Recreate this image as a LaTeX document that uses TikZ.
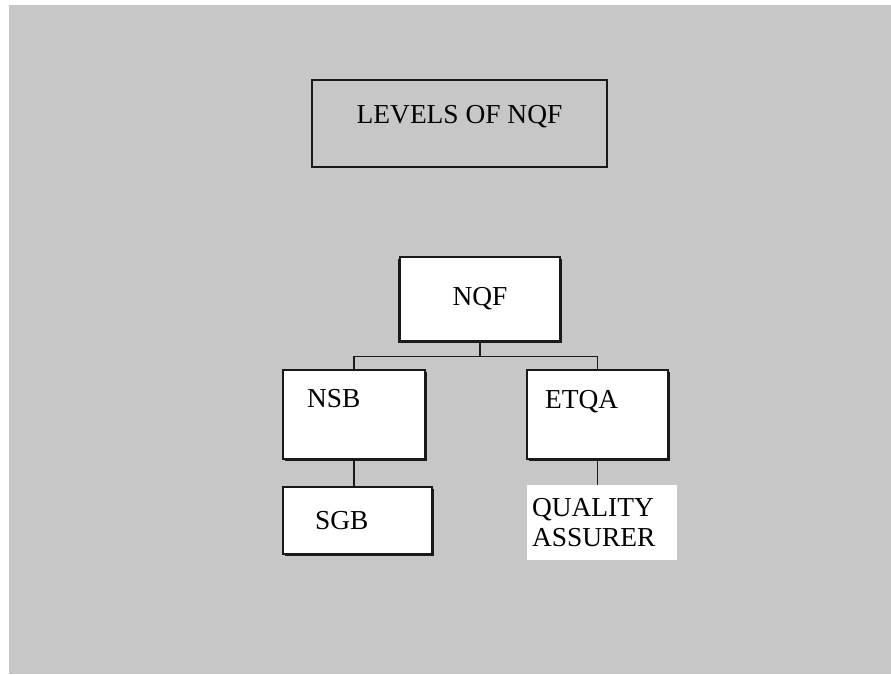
\documentclass[tikz,border=0pt]{standalone}
\usepackage{fontspec}
\setmainfont{Liberation Serif}
\usepackage{xcolor}
\definecolor{paper}{rgb}{0.78, 0.78, 0.78}
\definecolor{inkblack}{rgb}{0.1, 0.1, 0.1}
\usepackage{tikz}
\usetikzlibrary{positioning,shadows}
\tikzset{
  heading/.style={rectangle,draw=inkblack,line width=0.75pt,minimum width=5.9cm,minimum height=1.74cm,text height=0.37cm,text depth=0.37cm,font=\fontsize{15.6}{18}\selectfont},
  body/.style={rectangle,draw=inkblack,line width=0.8pt,fill=white,font=\fontsize{15.6}{18}\selectfont,
    drop shadow={shadow xshift=1.3pt,shadow yshift=-1.3pt,fill=inkblack,opacity=1}},
  leftshadow/.style={drop shadow={shadow xshift=-1.3pt,shadow yshift=-1.3pt,fill=inkblack,opacity=1}},
  plain/.style={rectangle,fill=white,inner xsep=0.1cm,align=left,font=\fontsize{15.6}{18}\selectfont},
  link/.style={draw=inkblack,line width=0.6pt}
}

\begin{document}
\begin{tikzpicture}[x=0.02cm,y=-0.02cm]
  \useasboundingbox (0,0) rectangle (891,674);
  \fill[paper] (9,5) rectangle (891,674);

  % Boxes
  \node[heading] (title) at (459.5,123.5) {LEVELS OF NQF};
  \node[body,leftshadow,minimum width=3.2cm,minimum height=1.68cm] (nqf) at (480,299) {NQF};
  \node[body,minimum width=2.84cm,minimum height=1.78cm,text width=1.88cm,inner xsep=0.48cm,align=left,text height=0.37cm,text depth=0.66cm] (nsb) at (354,414.5) {NSB};
  \node[body,minimum width=2.82cm,minimum height=1.78cm,text width=2.1cm,inner xsep=0.36cm,align=left,text height=0.37cm,text depth=0.6cm] (etqa) at (597.5,414.5) {ETQA};
  \node[body,minimum width=2.98cm,minimum height=1.34cm,text width=1.7cm,inner xsep=0.64cm,align=left] (sgb) at (357.5,520.5) {SGB};
  \node[plain,minimum width=3cm,minimum height=1.5cm,text width=2.8cm] (qa) at (602,522.5) {QUALITY\\[-1pt]ASSURER};

  % Lines
  \draw[link] (nqf.south) -- ++(0,15) coordinate (fork) -| (nsb.north);
  \draw[link] (fork) -| (etqa.north);
  \draw[link] (nsb.south) -- (nsb.south |- sgb.north);
  \draw[link] (etqa.south) -- (etqa.south |- qa.north);
\end{tikzpicture}
\end{document}
